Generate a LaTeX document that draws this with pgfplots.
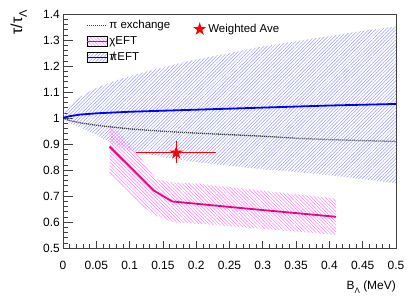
\documentclass[border=0pt]{standalone}
\usepackage{fontspec}
\setmainfont{Liberation Sans}
\usepackage{pgfplots}
\pgfplotsset{compat=1.18}
\usetikzlibrary{patterns.meta}
\newsavebox\pibox
\newcommand\pislash{\sbox\pibox{π}\rlap{\usebox\pibox}\hbox to \wd\pibox{\hss/\hss}}
\newcommand\subL[1]{\raisebox{-0.3em}{\fontsize{#1}{#1}\selectfont Λ}}
\pgfdeclareplotmark{fstar}{%
 \pgfpathmoveto{\pgfpoint{0pt}{\pgfplotmarksize}}%
 \pgfpathlineto{\pgfpoint{0.2245\pgfplotmarksize}{0.309\pgfplotmarksize}}%
 \pgfpathlineto{\pgfpoint{0.951\pgfplotmarksize}{0.309\pgfplotmarksize}}%
 \pgfpathlineto{\pgfpoint{0.3633\pgfplotmarksize}{-0.118\pgfplotmarksize}}%
 \pgfpathlineto{\pgfpoint{0.588\pgfplotmarksize}{-0.809\pgfplotmarksize}}%
 \pgfpathlineto{\pgfpoint{0pt}{-0.382\pgfplotmarksize}}%
 \pgfpathlineto{\pgfpoint{-0.588\pgfplotmarksize}{-0.809\pgfplotmarksize}}%
 \pgfpathlineto{\pgfpoint{-0.3633\pgfplotmarksize}{-0.118\pgfplotmarksize}}%
 \pgfpathlineto{\pgfpoint{-0.951\pgfplotmarksize}{0.309\pgfplotmarksize}}%
 \pgfpathlineto{\pgfpoint{-0.2245\pgfplotmarksize}{0.309\pgfplotmarksize}}%
 \pgfpathclose
 \pgfusepathqfill
}
\colorlet{bandblue}{blue!40}
\colorlet{bandmag}{magenta!50}
\tikzset{pidot/.style={dash pattern=on 1.1bp off 0.9bp, black!75, line width=1.3bp}}
\pgfplotsset{
 common/.style={
  at={(63bp,52bp)}, anchor=south west,
  scale only axis, width=333bp, height=234bp,
  xmin=0, xmax=0.5, ymin=0.5, ymax=1.4,
 }
}
\begin{document}
\begin{tikzpicture}
\begin{axis}[common,
 xtick={0,0.05,0.1,0.15,0.2,0.25,0.3,0.35,0.4,0.45,0.5},
 xticklabels={0,0.05,0.1,0.15,0.2,0.25,0.3,0.35,0.4,0.45,0.5},
 ytick={0.5,0.6,0.7,0.8,0.9,1,1.1,1.2,1.3,1.4},
 yticklabels={0.5,0.6,0.7,0.8,0.9,1,1.1,1.2,1.3,1.4},
 minor x tick num=4, minor y tick num=4,
 tick align=inside, tick pos=left,
 xtick style={/pgfplots/major tick length=7bp,/pgfplots/minor tick length=3.5bp},
 ytick style={/pgfplots/major tick length=10bp,/pgfplots/minor tick length=5bp},
 axis line style={black!75, line width=0.8bp},
 every tick/.append style={black!75, line width=0.6bp},
 ticklabel style={font=\fontsize{12}{14}\selectfont},
 xticklabel style={inner sep=0pt, yshift=-12.5bp},
 yticklabel style={inner sep=0pt, xshift=-3bp},
 xlabel={B\subL{8} (MeV)},
 ylabel={τ/τ\subL{11}},
 xlabel style={at={(axis description cs:1,-0.141)}, anchor=north east, inner sep=0pt, font=\fontsize{12}{14}\selectfont},
 ylabel style={at={(axis description cs:-0.108,1.017)}, anchor=south east, inner sep=0pt, font=\fontsize{16}{18}\selectfont},
 legend style={at={(axis description cs:0.069,0.985)}, anchor=north west, draw=none, fill=none,
   font=\fontsize{11.5}{13}\selectfont, inner sep=0pt, row sep=1bp,
   nodes={text height=8.5bp, text depth=2.5bp, inner sep=2bp}},
 legend cell align=left,
]
% pionless EFT band
\addplot[draw=none, pattern={Lines[angle=45,distance=2.4bp,line width=0.5bp]}, pattern color=bandblue, forget plot]
 coordinates {(0,1.01)(0.01,1.05)(0.025,1.08)(0.05,1.115)(0.075,1.14)(0.1,1.16)(0.15,1.195)(0.2,1.225)(0.25,1.25)(0.3,1.275)(0.35,1.295)(0.4,1.315)(0.45,1.335)(0.5,1.352)
  (0.5,0.75)(0.45,0.765)(0.4,0.78)(0.35,0.792)(0.3,0.803)(0.25,0.816)(0.2,0.83)(0.15,0.85)(0.1,0.875)(0.075,0.9)(0.05,0.935)(0.025,0.965)(0.01,0.98)(0,0.995)} -- cycle;
% chiral EFT band
\addplot[draw=none, pattern={Lines[angle=-45,distance=2.4bp,line width=0.5bp]}, pattern color=bandmag, forget plot]
 coordinates {(0.07,0.975)(0.105,0.885)(0.14,0.765)(0.165,0.752)(0.2,0.748)(0.41,0.69)
  (0.41,0.551)(0.22,0.59)(0.165,0.6)(0.135,0.628)(0.105,0.695)(0.07,0.79)} -- cycle;
% pion exchange
\addplot[pidot, forget plot]
 coordinates {(0,1.0)(0.01,0.99)(0.025,0.982)(0.05,0.972)(0.1,0.958)(0.15,0.949)(0.2,0.942)(0.25,0.936)(0.3,0.93)(0.35,0.922)(0.4,0.917)(0.45,0.913)(0.5,0.91)};
% pionless EFT central
\addplot[blue, line width=1.8bp, forget plot]
 coordinates {(0,1.0)(0.01,1.007)(0.025,1.013)(0.05,1.018)(0.1,1.024)(0.15,1.028)(0.2,1.032)(0.25,1.036)(0.3,1.04)(0.35,1.044)(0.4,1.048)(0.45,1.051)(0.5,1.054)};
% chiral EFT central
\addplot[magenta, line width=1.8bp, forget plot]
 coordinates {(0.07,0.89)(0.1356,0.722)(0.164,0.679)(0.266,0.654)(0.41,0.62)};
\addlegendimage{legend image code/.code={\draw[pidot] (0bp,0bp)--(20bp,0bp);}}
\addlegendentry{π exchange}
\addlegendimage{legend image code/.code={\fill[pattern={Lines[angle=-45,distance=2.4bp,line width=0.5bp]}, pattern color=bandmag] (0bp,-5bp) rectangle (20bp,5bp); \draw[magenta, line width=1.2bp] (0bp,0bp)--(20bp,0bp);}}
\addlegendentry{χEFT}
\addlegendimage{legend image code/.code={\fill[pattern={Lines[angle=45,distance=2.4bp,line width=0.5bp]}, pattern color=bandblue] (0bp,-5bp) rectangle (20bp,5bp); \draw[blue, line width=1.2bp] (0bp,0bp)--(20bp,0bp);}}
\addlegendentry{\pislash EFT}
\end{axis}
\begin{axis}[common, hide axis,
 legend style={at={(axis description cs:0.39,0.968)}, anchor=north west, draw=none, fill=none,
   font=\fontsize{11.5}{13}\selectfont, inner sep=0pt,
   nodes={text height=8.5bp, text depth=2.5bp, inner sep=2bp}},
 legend image code/.code={\draw[#1] plot coordinates {(6.5bp,0bp)};},
]
\addplot[draw=none, mark=none, forget plot,
 error bars/.cd, x dir=both, x explicit, y dir=both, y explicit,
 error bar style={red, line width=1bp}, error mark=none]
 coordinates {(0.17,0.866) += (0.06,0.044) -= (0.06,0.038)};
\addplot[only marks, mark=fstar, red, mark size=7bp] coordinates {(0.17,0.866)};
\addlegendentry{Weighted Ave}
\end{axis}
\pgfresetboundingbox
\path[use as bounding box] (0,0) rectangle (415bp,300bp);
\end{tikzpicture}
\end{document}
